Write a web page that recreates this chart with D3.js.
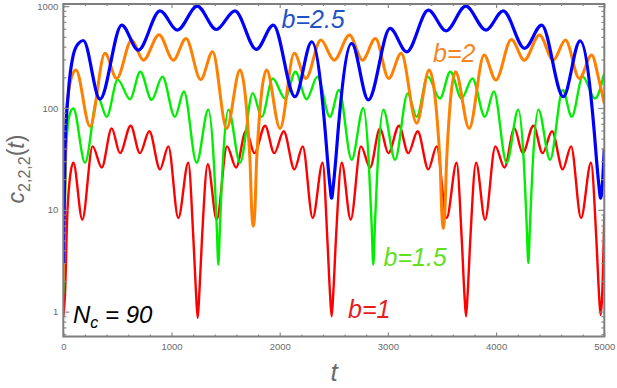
<!DOCTYPE html>
<html>
<head>
<meta charset="utf-8">
<script src="https://cdn.jsdelivr.net/npm/d3@7"></script>
<style>
  body { margin: 0; background: #fff; }
  svg { display: block; font-family: "Liberation Sans", Arial, sans-serif; }
</style>
</head>
<body>
<div id="chart"></div>
<script>
// [t, c] pairs, one list per value of b
var b1Points = [[0,0.9],[16,1.5],[35,8],[60,20],[93,29],[176,8],[271,42],[355,26],[447,63],[524,36],[623,67],[708,36],[795,59],[894,25],[971,42],[1063,8.3],[1155,29],[1203,5],[1227,1.5],[1242,0.87],[1257,1.5],[1281,5],[1335,28],[1418,8],[1513,42],[1597,26],[1689,60],[1766,36],[1865,67],[1950,36],[2037,59],[2136,25],[2213,42],[2305,8.3],[2397,29],[2441,5],[2465,1.5],[2480,0.9],[2495,1.5],[2519,5],[2573,29],[2656,8],[2751,42],[2835,26],[2927,63],[3004,36],[3103,67],[3188,36],[3275,59],[3374,25],[3451,42],[3543,8.3],[3635,29],[3683,5],[3707,1.5],[3722,0.9],[3737,1.5],[3761,5],[3815,29],[3898,8],[3993,42],[4077,26],[4169,63],[4246,36],[4345,67],[4430,36],[4517,59],[4616,25],[4693,42],[4785,8.3],[4877,29],[4927,5],[4951,1.5],[4966,0.93],[4981,1.5],[5000,9]];

var b15Points = [[0,1.5],[31,48],[62,89],[93,99],[201,29],[318,129],[401,82],[503,190],[616,122],[712,227],[816,120],[916,203],[1031,82],[1115,145],[1232,29],[1340,96],[1390,31],[1418,7],[1433,2.9],[1448,7],[1476,31],[1526,96],[1634,29],[1751,140],[1834,82],[1936,195],[2049,124],[2145,227],[2249,122],[2349,203],[2464,82],[2548,150],[2665,31],[2773,100],[2822,31],[2850,7],[2865,2.9],[2880,7],[2908,31],[2958,96],[3066,31],[3183,139],[3266,82],[3368,203],[3481,124],[3577,227],[3681,124],[3781,195],[3896,82],[3980,145],[4097,29],[4205,96],[4255,31],[4283,7],[4298,3.0],[4313,7],[4341,31],[4391,96],[4499,31],[4616,150],[4699,82],[4801,203],[4914,124],[5000,220]];

var b2Points = [[0,2],[31,96],[77,202],[117,236],[247,66],[385,344],[493,195],[632,464],[740,295],[885,525],[1017,295],[1134,482],[1270,190],[1380,357],[1510,63],[1633,236],[1725,31],[1741,10],[1756,6.9],[1771,10],[1787,31],[1879,236],[2003,63],[2135,344],[2241,195],[2380,464],[2503,295],[2645,520],[2765,295],[2885,482],[3007,195],[3123,344],[3266,71],[3381,236],[3481,31],[3497,10],[3512,6.6],[3527,10],[3543,31],[3625,227],[3751,63],[3889,331],[3997,188],[4141,471],[4260,295],[4401,520],[4528,295],[4641,464],[4770,195],[4883,331],[4950,190],[5000,110]];

var b25Points = [[0,3],[16,40],[46,140],[92,330],[140,430],[185,460],[339,122],[540,652],[693,370],[894,900],[1054,582],[1238,1000],[1414,590],[1586,900],[1784,376],[1941,652],[2141,129],[2296,447],[2422,57],[2442,31],[2465,17],[2480,13],[2495,17],[2518,31],[2538,57],[2665,431],[2819,120],[3020,604],[3174,356],[3374,914],[3538,573],[3720,1000],[3906,582],[4066,900],[4264,385],[4421,652],[4621,129],[4776,457],[4908,57],[4928,31],[4951,17],[4966,13],[4981,17],[5000,40]];

var seriesNames = ["b=1", "b=1.5", "b=2", "b=2.5"];
var xTicks = [0, 1000, 2000, 3000, 4000, 5000];
var yTicks = [1, 10, 100, 1000];

var width = 617, height = 388;
var frame = {left: 63.3, right: 604.3, top: 4, bottom: 336.5};

var series = [
  {name: seriesNames[0], pts: b1Points,  line: "#ff0000", text: "#e81c1c", w: 2.4, lx: 348, ly: 318},
  {name: seriesNames[1], pts: b15Points, line: "#00ee00", text: "#62e01e", w: 2.4, lx: 383.5, ly: 266},
  {name: seriesNames[2], pts: b2Points,  line: "#ff8000", text: "#f5861f", w: 3, lx: 433, ly: 62},
  {name: seriesNames[3], pts: b25Points, line: "#0000ff", text: "#1f52c4", w: 3.2, lx: 281.5, ly: 27.5}
];

var x = d3.scaleLinear().domain([0, 5000]).range([frame.left, frame.right]);
var y = d3.scaleLog().domain([0.57, 1050]).range([frame.bottom, frame.top]);

var svg = d3.select("#chart").append("svg")
    .attr("width", width)
    .attr("height", height);

svg.append("defs").append("clipPath").attr("id", "plotclip")
  .append("rect")
    .attr("x", frame.left).attr("y", frame.top)
    .attr("width", frame.right - frame.left)
    .attr("height", frame.bottom - frame.top);

// curves
var line = d3.line()
    .x(function(d) { return x(d[0]); })
    .y(function(d) { return y(d[1]); })
    .curve(d3.curveMonotoneX);

svg.append("g").attr("clip-path", "url(#plotclip)")
  .selectAll("path.curve")
  .data(series)
  .enter().append("path")
    .attr("class", "curve")
    .attr("d", function(d) { return line(d.pts); })
    .style("fill", "none")
    .style("stroke", function(d) { return d.line; })
    .style("stroke-width", function(d) { return d.w; })
    .style("stroke-linejoin", "round");

// minor ticks
var xMinor = d3.range(0, 5001, 200).filter(function(v) { return v % 1000 !== 0; });
var yMinor = [];
[0.1, 1, 10, 100].forEach(function(dec) {
  for (var k = 2; k <= 9; k++) {
    var v = dec * k;
    if (v >= 0.57 && v <= 1050) yMinor.push(v);
  }
});

function styleAxis(g) {
  g.select(".domain").remove();
  g.selectAll("line").style("stroke", "#8a8a8a").style("stroke-width", 1.2);
  g.selectAll("text").style("fill", "#6a6a6a").style("font-size", "9.5px")
    .style("font-family", "'Liberation Sans', Arial, sans-serif");
}

svg.append("g").attr("transform", "translate(0," + frame.bottom + ")")
  .call(d3.axisBottom(x).tickValues(xTicks).tickSize(-4).tickPadding(7).tickFormat(d3.format("d")))
  .call(styleAxis);
svg.append("g").attr("transform", "translate(0," + frame.bottom + ")")
  .call(d3.axisBottom(x).tickValues(xMinor).tickSize(-2).tickFormat(""))
  .call(styleAxis);
svg.append("g").attr("transform", "translate(0," + frame.top + ")")
  .call(d3.axisTop(x).tickValues(xTicks).tickSize(-4).tickFormat(""))
  .call(styleAxis);
svg.append("g").attr("transform", "translate(0," + frame.top + ")")
  .call(d3.axisTop(x).tickValues(xMinor).tickSize(-2).tickFormat(""))
  .call(styleAxis);

svg.append("g").attr("transform", "translate(" + frame.left + ",0)")
  .call(d3.axisLeft(y).tickValues(yTicks).tickSize(-6).tickPadding(5).tickFormat(d3.format("d")))
  .call(styleAxis);
svg.append("g").attr("transform", "translate(" + frame.left + ",0)")
  .call(d3.axisLeft(y).tickValues(yMinor).tickSize(-3).tickFormat(""))
  .call(styleAxis);
svg.append("g").attr("transform", "translate(" + frame.right + ",0)")
  .call(d3.axisRight(y).tickValues(yTicks).tickSize(-6).tickFormat(""))
  .call(styleAxis);
svg.append("g").attr("transform", "translate(" + frame.right + ",0)")
  .call(d3.axisRight(y).tickValues(yMinor).tickSize(-3).tickFormat(""))
  .call(styleAxis);

// frame
svg.append("rect")
    .attr("x", frame.left).attr("y", frame.top)
    .attr("width", frame.right - frame.left)
    .attr("height", frame.bottom - frame.top)
    .style("fill", "none")
    .style("stroke", "#7f7f7f")
    .style("stroke-width", 2);

// series labels
svg.selectAll("text.blabel")
  .data(series)
  .enter().append("text")
    .attr("class", "blabel")
    .attr("x", function(d) { return d.lx; })
    .attr("y", function(d) { return d.ly; })
    .style("fill", function(d) { return d.text; })
    .style("font-size", "25px")
    .style("font-style", "italic")
    .text(function(d) { return d.name; });

// N_c = 90
var nc = svg.append("text")
    .attr("x", 73).attr("y", 323)
    .style("fill", "#000")
    .style("font-size", "24px")
    .style("font-style", "italic");
nc.append("tspan").text("N");
nc.append("tspan").attr("dy", 5).style("font-size", "16px").text("c");
nc.append("tspan").attr("dy", -5).text(" = 90");

// axis labels
svg.append("text")
    .attr("x", 334).attr("y", 381)
    .attr("text-anchor", "middle")
    .style("fill", "#6a6a6a")
    .style("font-size", "26px")
    .style("font-style", "italic")
    .text("t");

var yl = svg.append("text")
    .attr("transform", "translate(24,169) rotate(-90)")
    .attr("text-anchor", "middle")
    .style("fill", "#6a6a6a")
    .style("font-size", "23px");
yl.append("tspan").style("font-style", "italic").text("c");
yl.append("tspan").attr("dy", 6).style("font-size", "16px").text("2,2,2");
yl.append("tspan").attr("dy", -6).text("(");
yl.append("tspan").style("font-style", "italic").text("t");
yl.append("tspan").text(")");
</script>
</body>
</html>
